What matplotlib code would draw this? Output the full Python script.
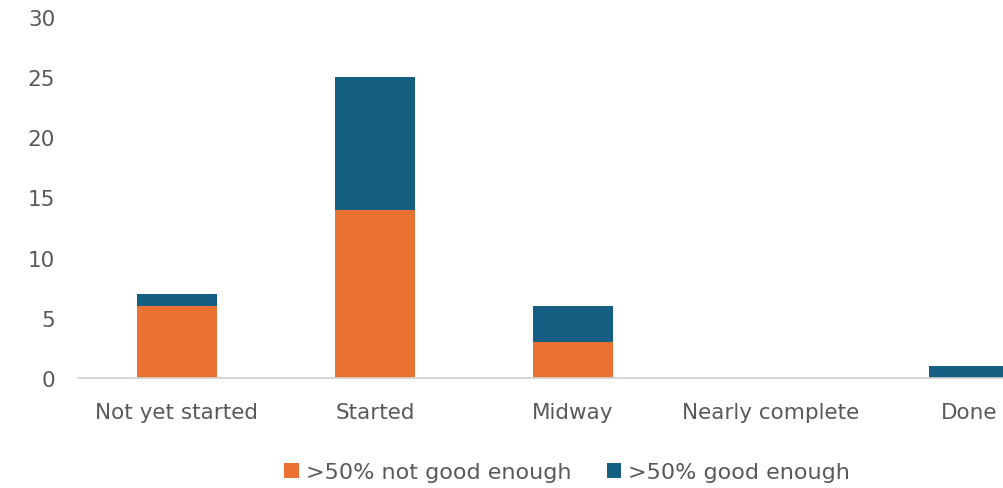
import numpy as np
import matplotlib.pyplot as plt

categories = ['Not yet started', 'Started', 'Midway', 'Nearly complete', 'Done']
not_good = [6, 14, 3, 0, 0]
good = [1, 11, 3, 0, 1]
series_names = ['>50% not good enough', '>50% good enough']

orange = '#E97132'
blue = '#156082'
grey = '#595959'

plt.rcParams['font.family'] = 'DejaVu Sans'

fig = plt.figure(figsize=(10.04, 4.89), dpi=100)
# axes runs off the right edge, the original picture is cropped there
ax = fig.add_axes([78/1004, 110/489, 990/1004, 361/489])

x = np.arange(len(categories))
ax.bar(x, not_good, width=0.4, color=orange, label=series_names[0])
ax.bar(x, good, width=0.4, bottom=not_good, color=blue, label=series_names[1])

ax.set_xlim(-0.5, len(categories) - 0.5)
ax.set_ylim(0, 30)
ax.set_yticks(range(0, 31, 5))
ax.set_xticks(x)
ax.set_xticklabels(categories)

for s in ['top', 'right', 'left']:
    ax.spines[s].set_visible(False)
ax.spines['bottom'].set_color('#d0d0d0')
ax.spines['bottom'].set_linewidth(1.2)
ax.tick_params(axis='both', length=0, colors=grey, labelsize=15.5)
ax.tick_params(axis='y', pad=16.5)
ax.tick_params(axis='x', pad=17)

fig.legend(loc='center', bbox_to_anchor=(567/1004, 1 - 473/489), ncol=2,
           frameon=False, fontsize=16, labelcolor=grey, handlelength=0.65,
           handleheight=0.65, handletextpad=0.3, columnspacing=1.6)

fig.savefig('out.png', dpi=100)
